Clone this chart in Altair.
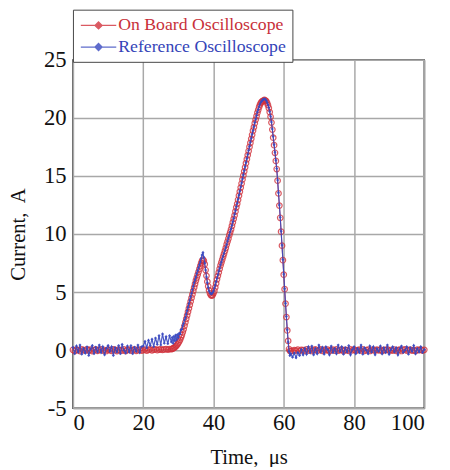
import altair as alt
import pandas as pd

# ---------------- data ----------------
SERIES = ["On Board Oscilloscope", "Reference Oscilloscope"]
RED = "#d2323c"
BLUE = "#3848c0"

x_ticks = [0, 20, 40, 60, 80, 100]
y_ticks = [-5, 0, 5, 10, 15, 20, 25]

# On Board Oscilloscope (red), t = 0 .. 27.5 us, step 0.5
red_start = [0.02, -0.07, 0.05, 0.0, -0.08, 0.06, 0.01, -0.04, 0.08, -0.03,
             0.04, -0.08, 0.0, 0.06, -0.05, 0.03, 0.08, -0.04, 0.01, -0.07,
             0.05, 0.0, -0.05, 0.07, 0.02, -0.08, 0.04, 0.0, -0.03, 0.06,
             -0.07, 0.03, 0.05, -0.04, 0.0, 0.08, -0.05, 0.01, 0.04, -0.03,
             0.0, 0.05, -0.04, 0.03, 0.06, -0.01, 0.04, 0.07, 0.0, 0.05,
             0.08, 0.03, 0.06, 0.09, 0.05, 0.1]
# t = 28 .. 62 us, step 0.25
red_pulse = [0.10, 0.12, 0.15, 0.2, 0.25, 0.32, 0.40, 0.5, 0.62, 0.75,
             0.9, 1.1, 1.3, 1.55, 1.8, 2.1, 2.4, 2.7, 3.0, 3.3,
             3.6, 3.9, 4.2, 4.5, 4.8, 5.1, 5.4, 5.7, 6.0, 6.25,
             6.5, 6.75, 7.0, 7.25, 7.5, 7.7, 7.8, 7.7, 7.4, 6.9,
             6.4, 5.9, 5.5, 5.15, 4.9, 4.75, 4.7, 4.75, 4.9, 5.1,
             5.4, 5.75, 6.1, 6.4, 6.7, 7.0, 7.3, 7.55, 7.8, 8.05,
             8.3, 8.55, 8.8, 9.1, 9.35, 9.6, 9.9, 10.15, 10.4, 10.7,
             11.0, 11.3, 11.6, 11.95, 12.3, 12.6, 12.95, 13.3, 13.65, 14.0,
             14.35, 14.7, 15.05, 15.4, 15.75, 16.1, 16.45, 16.8, 17.15, 17.5,
             17.85, 18.2, 18.55, 18.9, 19.2, 19.55, 19.85, 20.15, 20.45, 20.7,
             20.95, 21.15, 21.3, 21.4, 21.45, 21.5, 21.55, 21.5, 21.45, 21.3,
             21.1, 20.85, 20.5, 20.1, 19.6, 19.0, 18.3, 17.65, 17.0, 16.3,
             15.6, 14.6, 13.5, 12.45, 11.4, 10.2, 9.0, 7.75, 6.5, 5.25,
             4.0, 2.85, 1.7, 0.8, 0.1, -0.05, -0.08]
# t = 62.5 .. 100 us, step 0.5
red_end = [-0.07, 0.0, -0.04, 0.05, -0.08, 0.03, 0.0, -0.05, 0.07, -0.03,
           0.04, -0.07, 0.01, 0.06, -0.04, 0.0, 0.07, -0.05, 0.03, -0.01,
           0.05, -0.07, 0.0, 0.04, -0.04, 0.07, -0.03, 0.01, 0.05, -0.07,
           0.03, 0.0, -0.05, 0.07, -0.01, 0.04, -0.04, 0.0, 0.05, -0.03,
           0.07, -0.05, 0.01, 0.04, -0.07, 0.03, 0.0, -0.04, 0.05, -0.01,
           0.04, -0.07, 0.03, 0.0, 0.07, -0.04, 0.01, -0.03, 0.05, -0.05,
           0.0, 0.04, -0.07, 0.03, 0.07, -0.03, 0.0, 0.05, -0.04, 0.01,
           -0.07, 0.04, 0.0, 0.05, -0.03, 0.03]

# Reference Oscilloscope (blue), t = 0 .. 27.5 us, step 0.5
blue_start = [0.25, -0.3, 0.35, -0.15, 0.45, -0.35, 0.15, -0.25, 0.3, -0.45,
              0.1, 0.4, -0.3, 0.25, -0.15, 0.45, -0.2, 0.3, -0.4, 0.15,
              0.4, -0.1, 0.3, -0.45, 0.2, -0.15, 0.4, -0.3, 0.5, 0.0,
              -0.25, 0.35, -0.15, 0.4, -0.3, 0.25, -0.1, 0.45, -0.2, 0.3,
              0.35, 0.75, 0.2, 0.85, 0.4, 0.95, 0.3, 1.05, 0.5, 1.25,
              0.45, 1.4, 0.6, 1.15, 0.55, 1.25]
# t = 28 .. 62 us, step 0.25
blue_pulse = [0.7, 1.1, 0.6, 1.2, 0.8, 1.3, 0.9, 1.35, 1.1, 1.45,
              1.4, 1.75, 1.8, 2.1, 2.3, 2.6, 2.8, 3.1, 3.4, 3.7,
              4.0, 4.3, 4.6, 4.9, 5.2, 5.5, 5.8, 6.05, 6.3, 6.6,
              6.85, 7.1, 7.35, 7.6, 7.9, 8.2, 8.4, 8.0, 7.5, 6.9,
              6.3, 5.8, 5.4, 5.1, 4.95, 4.85, 4.85, 4.95, 5.1, 5.35,
              5.6, 5.9, 6.2, 6.5, 6.8, 7.05, 7.35, 7.6, 7.85, 8.1,
              8.35, 8.6, 8.85, 9.1, 9.4, 9.65, 9.9, 10.2, 10.45, 10.75,
              11.05, 11.35, 11.7, 12.0, 12.35, 12.65, 13.0, 13.35, 13.7, 14.05,
              14.4, 14.75, 15.1, 15.45, 15.8, 16.15, 16.5, 16.85, 17.2, 17.55,
              17.9, 18.25, 18.6, 18.9, 19.25, 19.6, 19.9, 20.2, 20.5, 20.75,
              21.0, 21.2, 21.35, 21.45, 21.55, 21.6, 21.65, 21.6, 21.5, 21.35,
              21.15, 20.9, 20.55, 20.15, 19.65, 19.05, 18.4, 17.7, 17.05, 16.35,
              15.65, 14.65, 13.55, 12.5, 11.45, 10.25, 9.05, 7.8, 6.55, 5.3,
              4.05, 2.9, 1.75, 0.7, -0.1, -0.45, -0.3]
# t = 62.5 .. 100 us, step 0.5
blue_end = [-0.6, -0.25, -0.65, -0.2, -0.45, 0.05, -0.4, 0.15, -0.35, 0.3,
            -0.2, 0.35, -0.4, 0.15, -0.3, 0.45, -0.15, 0.25, -0.35, 0.3,
            0.05, -0.4, 0.35, -0.2, 0.15, -0.3, 0.45, -0.1, 0.3, -0.35,
            0.2, -0.15, 0.4, -0.4, 0.05, 0.3, -0.3, 0.15, -0.2, 0.45,
            -0.35, 0.2, 0.0, -0.3, 0.35, -0.15, 0.3, -0.4, 0.15, -0.1,
            0.35, -0.3, 0.2, -0.2, 0.45, -0.35, 0.05, 0.3, -0.15, 0.2,
            -0.4, 0.15, 0.35, -0.2, 0.0, 0.3, -0.35, 0.2, -0.1, 0.4,
            -0.3, 0.15, -0.15, 0.3, -0.2, 0.05]


def sample_times(start, step, n):
    return [start + step * k for k in range(n)]


def build(series, start_vals, pulse_vals, end_vals):
    t = (sample_times(0.0, 0.5, len(start_vals))
         + sample_times(28.0, 0.25, len(pulse_vals))
         + sample_times(62.5, 0.5, len(end_vals)))
    v = start_vals + pulse_vals + end_vals
    return pd.DataFrame({"t": t, "i": v, "series": series})


df_red = build(SERIES[0], red_start, red_pulse, red_end)
df_blue = build(SERIES[1], blue_start, blue_pulse, blue_end)

FONT = "Liberation Serif"

x_enc = alt.X("t:Q", scale=alt.Scale(domain=[0, 100], nice=False),
              axis=alt.Axis(values=x_ticks, title="Time,\u00a0 \u03bcs",
                            labelExpr="datum.value + ''"))
y_enc = alt.Y("i:Q", scale=alt.Scale(domain=[-5, 25], nice=False),
              axis=alt.Axis(values=y_ticks, title="Current,\u00a0 A",
                            labelExpr="datum.value + ''"))
color_enc = alt.Color(
    "series:N",
    scale=alt.Scale(domain=SERIES, range=[RED, BLUE]),
    legend=alt.Legend(
        orient="none", legendX=0, legendY=-51, title=None, direction="vertical",
        symbolType="M-2,0H2M0,-0.4L0.4,0L0,0.4L-0.4,0Z",
        symbolSize=324, symbolStrokeWidth=1.3, symbolFillColor="white",
        symbolOffset=10, labelOffset=10, labelLimit=400,
        labelFont=FONT, labelFontSize=18, rowPadding=3, padding=6,
        labelColor={"expr": "datum.label === 'On Board Oscilloscope' ? '#c8303a' : '#3444b8'"},
        strokeColor="#444", fillColor="white",
    ),
)

blue_line = alt.Chart(df_blue).mark_line(strokeWidth=1.2, opacity=0.9).encode(
    x=x_enc, y=y_enc, color=color_enc, order="t:Q")
blue_pts = alt.Chart(df_blue).mark_point(shape="diamond", filled=True, size=10, opacity=0.9).encode(
    x=x_enc, y=y_enc, color=color_enc)
red_line = alt.Chart(df_red).mark_line(strokeWidth=1.0).encode(
    x=x_enc, y=y_enc, color=color_enc, order="t:Q")
red_pts = alt.Chart(df_red).mark_point(shape="circle", filled=False, size=32, strokeWidth=1.2,
                                       opacity=0.8).encode(
    x=x_enc, y=y_enc, color=color_enc)

chart = alt.layer(red_line, red_pts, blue_line, blue_pts).properties(
    width=357, height=354,
    autosize=alt.AutoSizeParams(type="none"),
    padding={"left": 66, "top": 49, "right": 18, "bottom": 56},
).configure_view(
    stroke="#333", strokeWidth=1.5
).configure_axis(
    labelFont=FONT, titleFont=FONT, labelFontSize=23, titleFontSize=21,
    labelColor="#111", titleColor="#111", titleFontWeight="normal",
    grid=True, gridColor="#a8a8a8", gridWidth=1.5,
    domain=False, ticks=False,
).configure_axisX(
    labelPadding=4, titlePadding=12,
).configure_axisY(
    labelPadding=7, titlePadding=15,
)

chart.save("out.html", embed_options={"renderer": "svg", "actions": False})
